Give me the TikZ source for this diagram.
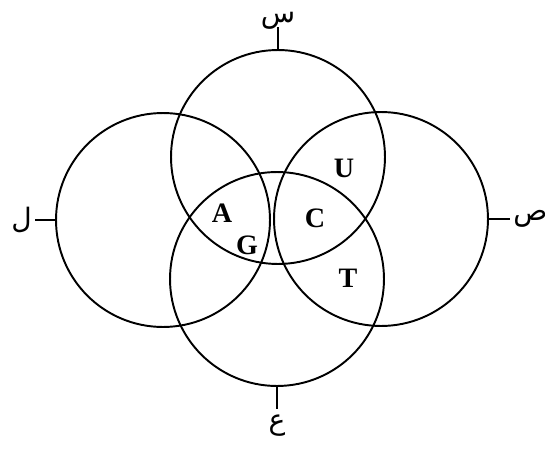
\documentclass[tikz,border=0pt]{standalone}
\usepackage{fontspec}
\setmainfont{Liberation Serif}
\newfontfamily\arabicfont[Script=Arabic]{DejaVu Sans}
\TeXXeTstate=1
\usetikzlibrary{positioning}
\tikzset{
  ring/.style={draw, circle, line width=1.1pt, minimum size=4.28cm, inner sep=0pt},
  tickline/.style={line width=1.1pt},
  base/.style={font=\fontsize{16}{18}\selectfont\bfseries, inner sep=0pt},
  arlabel/.style={font=\arabicfont\fontsize{16}{18}\selectfont, inner sep=0pt}
}

\begin{document}
\begin{tikzpicture}[x=0.02cm, y=-0.02cm]
  \useasboundingbox (0,0) rectangle (545,450);
  % the four circles
  \node[ring] (cs) at (278,157) {};
  \node[ring] (cl) at (163,220) {};
  \node[ring] (cr) at (381,219) {};
  \node[ring] (ca) at (277,279) {};
  % ticks and their letters
  \coordinate (ts) at ([yshift=0.44cm]cs.north);
  \coordinate (tl) at ([xshift=-0.4cm]cl.west);
  \coordinate (tr) at ([xshift=0.42cm]cr.east);
  \coordinate (ta) at ([yshift=-0.44cm]ca.south);
  \draw[tickline] (cs.north) -- (ts);
  \draw[tickline] (cl.west) -- (tl);
  \draw[tickline] (cr.east) -- (tr);
  \draw[tickline] (ca.south) -- (ta);
  \node[arlabel, above=-0.06cm of ts] (ls) {\beginR س\endR};
  \node[arlabel, left=0.06cm of tl] (ll) {\beginR ل\endR};
  \node[arlabel, right=0.06cm of tr] (lr) {\beginR ص\endR};
  \node[arlabel, below=0.12cm of ta] (la) {\beginR ع\endR};
  % bases
  \node[base] (bA) at (222,213) {A};
  \node[base] (bG) at (247,245) {G};
  \node[base] (bC) at (315,218) {C};
  \node[base] (bU) at (344,168) {U};
  \node[base] (bT) at (348,278) {T};
\end{tikzpicture}
\end{document}
